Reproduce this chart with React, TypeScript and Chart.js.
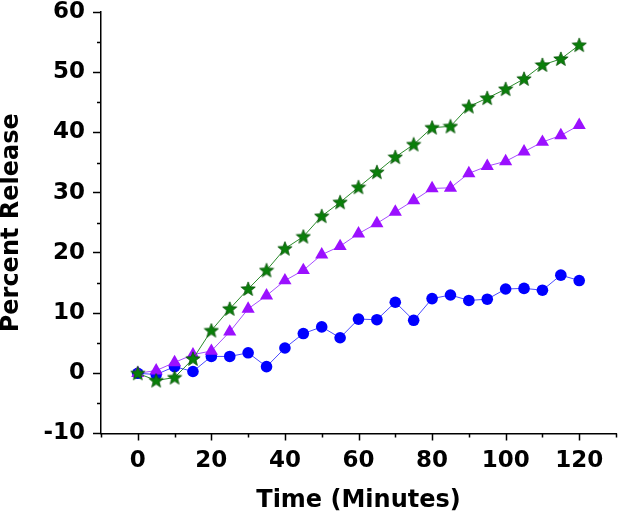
import React, { useEffect, useRef } from "react";
import { Chart, registerables } from "chart.js";

Chart.register(...registerables);

const timeMinutes = [0, 5, 10, 15, 20, 25, 30, 35, 40, 45, 50, 55, 60, 65, 70, 75, 80, 85, 90, 95, 100, 105, 110, 115, 120];
const greenStars = [0, -1.2, -0.7, 2.4, 7.1, 10.7, 14.0, 17.1, 20.7, 22.7, 26.1, 28.4, 30.9, 33.4, 35.9, 38.0, 40.8, 41.0, 44.3, 45.7, 47.2, 48.9, 51.2, 52.2, 54.5];
const purpleTriangles = [0, 0.45, 1.8, 3.1, 3.7, 6.9, 10.7, 12.9, 15.4, 17.1, 19.7, 21.1, 23.2, 24.9, 26.8, 28.7, 30.7, 30.8, 33.2, 34.4, 35.2, 36.8, 38.4, 39.5, 41.2];
const blueCircles = [0, -0.2, 1.1, 0.3, 2.8, 2.8, 3.4, 1.1, 4.2, 6.6, 7.7, 5.9, 9.0, 8.9, 11.8, 8.8, 12.4, 13.0, 12.1, 12.3, 14.0, 14.1, 13.8, 16.3, 15.4];

const xTitle = "Time (Minutes)";
const yTitle = "Percent Release";
const xMin = -10, xMax = 130, xStep = 10, xLabelStep = 20;
const yMin = -10, yMax = 60, yStep = 5, yLabelStep = 10;

function makeStar(): HTMLCanvasElement {
  const c = document.createElement("canvas");
  c.width = 16;
  c.height = 16;
  const g = c.getContext("2d")!;
  const cx = 8, cy = 8.4, ro = 7.5, ri = 3.2;
  g.beginPath();
  for (let i = 0; i < 10; i++) {
    const r = i % 2 === 0 ? ro : ri;
    const a = -Math.PI / 2 + (i * Math.PI) / 5;
    const px = cx + r * Math.cos(a);
    const py = cy + r * Math.sin(a);
    if (i === 0) g.moveTo(px, py);
    else g.lineTo(px, py);
  }
  g.closePath();
  g.fillStyle = "#0a7f0a";
  g.fill();
  g.strokeStyle = "#055205";
  g.lineWidth = 0.8;
  g.stroke();
  return c;
}

const stretchArea = {
  id: "stretchArea",
  afterLayout(chart: any) {
    const right = chart.width - 2;
    const a = chart.chartArea;
    a.right = right;
    a.width = right - a.left;
    const xs = chart.scales.x;
    xs.right = right;
    xs.width = right - xs.left;
    xs.configure();
  },
};

const axisTicks = {
  id: "axisTicks",
  afterDraw(chart: any) {
    const ctx = chart.ctx;
    const xs = chart.scales.x;
    const ys = chart.scales.y;
    const area = chart.chartArea;
    ctx.save();
    ctx.strokeStyle = "#000";
    ctx.lineWidth = 1.5;
    ctx.beginPath();
    for (let v = xMin; v <= xMax; v += xStep) {
      const len = v % xLabelStep === 0 ? 7 : 4;
      const px = Math.round(xs.getPixelForValue(v)) + 0.5;
      ctx.moveTo(px, area.bottom);
      ctx.lineTo(px, area.bottom + len);
    }
    for (let v = yMin; v <= yMax; v += yStep) {
      if (v % yLabelStep === 0) continue;
      const py = Math.round(ys.getPixelForValue(v)) + 0.5;
      ctx.moveTo(area.left, py);
      ctx.lineTo(area.left - 4, py);
    }
    ctx.stroke();
    ctx.restore();
  },
};

export default function App() {
  const ref = useRef<HTMLCanvasElement>(null);
  useEffect(() => {
    const star = makeStar();
    const font = { family: "'DejaVu Sans', sans-serif", size: 23, weight: "bold" as const, lineHeight: 1 };
    const titleFont = { family: "'DejaVu Sans', sans-serif", size: 24, weight: "bold" as const, lineHeight: 1 };
    const mk = (arr: number[]) => timeMinutes.map((t, i) => ({ x: t, y: arr[i] }));
    const chart = new Chart(ref.current!, {
      type: "line",
      data: {
        datasets: [
          {
            data: mk(greenStars),
            borderColor: "#2a8a2a",
            borderWidth: 1,
            pointStyle: star as any,
            pointRadius: 7,
            backgroundColor: "#0a7f0a",
          },
          {
            data: mk(purpleTriangles),
            borderColor: "#a64dff",
            borderWidth: 1,
            pointStyle: "triangle",
            pointRadius: 7.6,
            pointBackgroundColor: "#9b10ff",
            pointBorderColor: "#9b10ff",
            pointBorderWidth: 0,
          },
          {
            data: mk(blueCircles),
            borderColor: "#4a4aff",
            borderWidth: 1,
            pointStyle: "circle",
            pointRadius: 5.8,
            pointBackgroundColor: "#0000ff",
            pointBorderColor: "#0000ff",
            pointBorderWidth: 0,
          },
        ],
      },
      options: {
        animation: false,
        responsive: false,
        events: [],
        layout: { padding: { top: 12, right: 2, left: 0, bottom: 0 } },
        plugins: { legend: { display: false }, tooltip: { enabled: false } },
        scales: {
          x: {
            type: "linear",
            min: xMin,
            max: xMax,
            afterFit: (s: any) => { s.height = 91.5; s.paddingLeft = 0; s.paddingRight = 0; },
            border: { color: "#000", width: 1.5 },
            grid: {
              drawOnChartArea: false,
              tickLength: 16,
              tickWidth: 1.5,
              tickColor: "rgba(0,0,0,0)",
            },
            ticks: {
              stepSize: xStep,
              autoSkip: false,
              maxRotation: 0,
              padding: 0,
              color: "#000",
              font,
              callback: (v: any) => (Number(v) % xLabelStep === 0 && Number(v) >= 0 ? String(v) : ""),
            },
            title: { display: true, text: xTitle, color: "#000", font: titleFont, padding: { top: 0, bottom: 12 } },
          },
          y: {
            type: "linear",
            min: yMin,
            max: yMax,
            afterFit: (s: any) => { s.width = 101; s.paddingTop = 0; s.paddingBottom = 0; },
            border: { color: "#000", width: 1.5 },
            grid: {
              drawOnChartArea: false,
              tickLength: 8,
              tickWidth: 1.5,
              tickColor: (c: any) => (c.tick && c.tick.value % yLabelStep === 0 ? "#000" : "rgba(0,0,0,0)"),
            },
            ticks: {
              stepSize: yStep,
              autoSkip: false,
              padding: 8,
              color: "#000",
              font,
              callback: (v: any) => (Number(v) % yLabelStep === 0 ? String(v) : ""),
            },
            title: { display: true, text: yTitle, color: "#000", font: titleFont, padding: { top: 0, bottom: 0 } },
          },
        },
      },
      plugins: [stretchArea, axisTicks],
    });
    return () => chart.destroy();
  }, []);
  return (
    <div style={{ position: "fixed", left: 0, top: 0, width: 618, height: 525, background: "#fff" }}>
      <canvas ref={ref} width={618} height={525} />
    </div>
  );
}
